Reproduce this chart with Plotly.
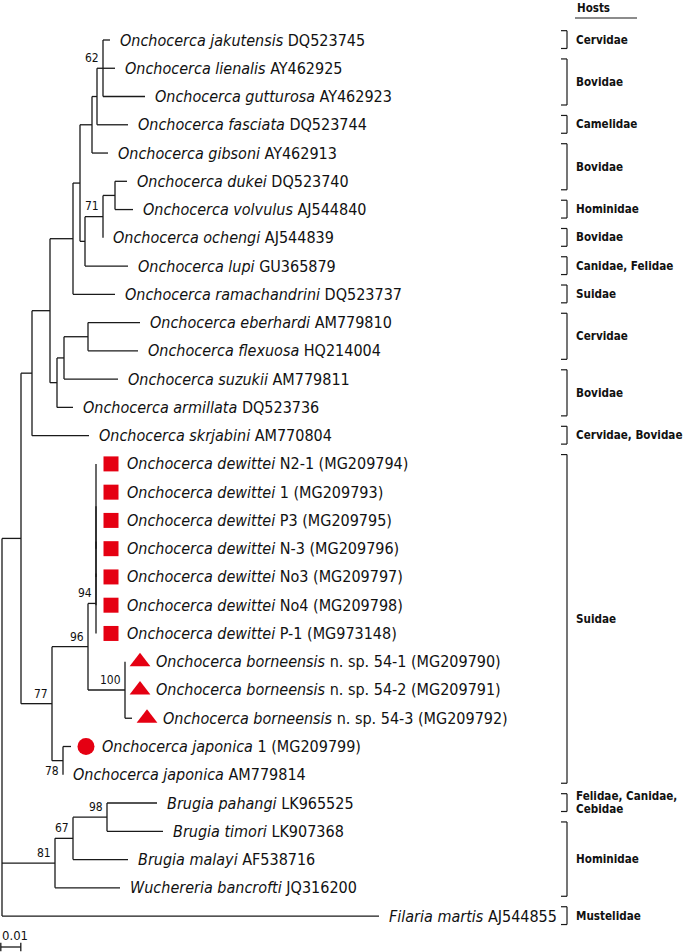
import plotly.graph_objects as go

# ---------------- data ----------------
# tree topology with branch lengths (substitutions/site) and bootstrap support
NEWICK = (
    "((((((((("
    "jak:0.0035,lien:0.006,gut:0.021)62:0.003,fasc:0.0155):0.0025,gib:0.008):0.006,"
    "(((duk:0.006,vol:0.009):0.006,och:0)71:0.009,lup:0.0215):0.0025):0.0035,ram:0.021):0.0115,"
    "(((ebe:0.026,fle:0.025):0.012,suz:0.027):0.0035,arm:0.008):0.0035):0.009,skr:0.0285):0.0055,"
    "((((((dw1:0,dw2:0,dw3:0,dw4:0):0,dw5:0):0,dw6:0):0,dw7:0)94:0.004,"
    "(bo1:0,bo2:0,bo3:0.0035)100:0.0185)96:0.018,(jp1:0.004,jp2:0)78:0.0055)77:0.0155):0.0095,"
    "(((pah:0.025,tim:0.028)98:0.017,mal:0.0275)67:0.009,wuc:0.0325)81:0.0265,"
    "fil:0.1885);"
)

LEAF_KEYS = ["jak", "lien", "gut", "fasc", "gib", "duk", "vol", "och", "lup", "ram",
             "ebe", "fle", "suz", "arm", "skr", "dw1", "dw2", "dw3", "dw4", "dw5",
             "dw6", "dw7", "bo1", "bo2", "bo3", "jp1", "jp2", "pah", "tim", "mal",
             "wuc", "fil"]
SPECIES = ["Onchocerca jakutensis", "Onchocerca lienalis", "Onchocerca gutturosa",
           "Onchocerca fasciata", "Onchocerca gibsoni", "Onchocerca dukei",
           "Onchocerca volvulus", "Onchocerca ochengi", "Onchocerca lupi",
           "Onchocerca ramachandrini", "Onchocerca eberhardi", "Onchocerca flexuosa",
           "Onchocerca suzukii", "Onchocerca armillata", "Onchocerca skrjabini",
           "Onchocerca dewittei", "Onchocerca dewittei", "Onchocerca dewittei",
           "Onchocerca dewittei", "Onchocerca dewittei", "Onchocerca dewittei",
           "Onchocerca dewittei", "Onchocerca borneensis", "Onchocerca borneensis",
           "Onchocerca borneensis", "Onchocerca japonica", "Onchocerca japonica",
           "Brugia pahangi", "Brugia timori", "Brugia malayi", "Wuchereria bancrofti",
           "Filaria martis"]
ACCESSION = ["DQ523745", "AY462925", "AY462923", "DQ523744", "AY462913", "DQ523740",
             "AJ544840", "AJ544839", "GU365879", "DQ523737", "AM779810", "HQ214004",
             "AM779811", "DQ523736", "AM770804", "N2-1 (MG209794)", "1 (MG209793)",
             "P3 (MG209795)", "N-3 (MG209796)", "No3 (MG209797)", "No4 (MG209798)",
             "P-1 (MG973148)", "n. sp. 54-1 (MG209790)", "n. sp. 54-2 (MG209791)",
             "n. sp. 54-3 (MG209792)", "1 (MG209799)", "AM779814", "LK965525",
             "LK907368", "AF538716", "JQ316200", "AJ544855"]
MARKER = [None] * 15 + ["square"] * 7 + ["triangle-up"] * 3 + ["circle"] + [None] * 6

HOST_LABELS = ["Cervidae", "Bovidae", "Camelidae", "Bovidae", "Hominidae", "Bovidae",
               "Canidae, Felidae", "Suidae", "Cervidae", "Bovidae", "Cervidae, Bovidae",
               "Suidae", "Felidae, Canidae,|Cebidae", "Hominidae", "Mustelidae"]
HOST_FIRST = ["jak", "lien", "fasc", "gib", "vol", "och", "lup", "ram", "ebe", "suz",
              "skr", "dw1", "pah", "tim", "fil"]
HOST_LAST = ["jak", "gut", "fasc", "duk", "vol", "och", "lup", "ram", "fle", "arm",
             "skr", "jp2", "pah", "wuc", "fil"]

SCALE_LEN = 0.01

# ---------------- style / geometry ----------------
W, H = 685, 952
UNIT_PER_PX = 0.0005          # 20 px == 0.01
ROOT_PX = 2
Y0_PX, DY_PX = 40, 28.26
RED = "#e50012"
FONT = "DejaVu Sans Condensed, Liberation Sans Narrow, sans-serif"


def px2x(p):
    return (p - ROOT_PX) * UNIT_PER_PX


def py2y(p):
    return (p - Y0_PX) / DY_PX


# ---------------- newick parser ----------------
def parse(s):
    pos = [0]

    def node():
        n = {"name": "", "len": 0.0, "children": []}
        if s[pos[0]] == "(":
            pos[0] += 1
            n["children"].append(node())
            while s[pos[0]] == ",":
                pos[0] += 1
                n["children"].append(node())
            pos[0] += 1  # ')'
        start = pos[0]
        while s[pos[0]] not in ":,);":
            pos[0] += 1
        n["name"] = s[start:pos[0]]
        if s[pos[0]] == ":":
            pos[0] += 1
            start = pos[0]
            while s[pos[0]] not in ",);":
                pos[0] += 1
            n["len"] = float(s[start:pos[0]])
        return n

    return node()


tree = parse(NEWICK)
leaf_index = {k: i for i, k in enumerate(LEAF_KEYS)}


def layout(n, x0):
    n["x"] = x0 + n["len"]
    if n["children"]:
        for c in n["children"]:
            layout(c, n["x"])
        n["y"] = (n["children"][0]["y"] + n["children"][-1]["y"]) / 2
    else:
        n["y"] = leaf_index[n["name"]]


tree["len"] = 0.0
layout(tree, 0.0)

lx, ly = [], []
supports = []
leaf_pos = {}


def collect(n):
    if n["children"]:
        lx.extend([n["x"], n["x"], None])
        ly.extend([n["children"][0]["y"], n["children"][-1]["y"], None])
        for c in n["children"]:
            lx.extend([n["x"], c["x"], None])
            ly.extend([c["y"], c["y"], None])
            collect(c)
        if n["name"]:
            supports.append((n["name"], n["x"], n["y"]))
    else:
        leaf_pos[n["name"]] = (n["x"], n["y"])


collect(tree)

fig = go.Figure()
fig.add_trace(go.Scatter(x=lx, y=ly, mode="lines",
                         line=dict(color="#1a1a1a", width=1.3),
                         hoverinfo="skip", showlegend=False, cliponaxis=False))

annotations = []
# leaf markers + labels
mk_x, mk_y, mk_sym, mk_size = [], [], [], []
MSIZE = {"square": 15, "triangle-up": 18, "circle": 17}
for i, key in enumerate(LEAF_KEYS):
    x, y = leaf_pos[key]
    if MARKER[i]:
        mk_x.append(x + 15 * UNIT_PER_PX)
        mk_y.append(y)
        mk_sym.append(MARKER[i])
        mk_size.append(MSIZE[MARKER[i]])
        tx = x + 29 * UNIT_PER_PX
    else:
        tx = x + 8 * UNIT_PER_PX
    annotations.append(dict(
        x=tx, y=y, xref="x", yref="y", xanchor="left", yanchor="middle",
        text=f"<i>{SPECIES[i]}</i> {ACCESSION[i]}", showarrow=False,
        font=dict(family=FONT, size=16, color="#111")))

fig.add_trace(go.Scatter(x=mk_x, y=mk_y, mode="markers",
                         marker=dict(symbol=mk_sym, size=mk_size, color=RED,
                                     opacity=1, line=dict(width=0)),
                         opacity=1,
                         hoverinfo="skip", showlegend=False, cliponaxis=False))

# bootstrap values
for name, x, y in supports:
    below = name == "78"
    annotations.append(dict(
        x=x - 2 * UNIT_PER_PX, y=y + (0.05 if below else -0.04), xref="x", yref="y",
        xanchor="right", yanchor="top" if below else "bottom",
        text=name, showarrow=False,
        font=dict(family=FONT, size=12, color="#111")))

# host brackets
shapes = []
bx = px2x(567)
bx_t = px2x(561)
for lab, f, l in zip(HOST_LABELS, HOST_FIRST, HOST_LAST):
    y1 = leaf_index[f] - 0.33
    y2 = leaf_index[l] + 0.3
    for xa, ya, xb, yb in [(bx, y1, bx, y2), (bx_t, y1, bx, y1), (bx_t, y2, bx, y2)]:
        shapes.append(dict(type="line", xref="x", yref="y", x0=xa, y0=ya, x1=xb, y1=yb,
                           line=dict(color="#1a1a1a", width=1.2)))
    ym = (y1 + y2) / 2
    parts = lab.split("|")
    for j, part in enumerate(parts):
        off = (j - (len(parts) - 1) / 2) * 0.47
        annotations.append(dict(
            x=px2x(574), y=ym + off, xref="x", yref="y", xanchor="left", yanchor="middle",
            text=f"<b>{part}</b>", showarrow=False,
            font=dict(family=FONT, size=11.6, color="#111")))

# Hosts header
annotations.append(dict(x=px2x(575), y=py2y(8), xref="x", yref="y", xanchor="left",
                        yanchor="middle", text="<b>Hosts</b>", showarrow=False,
                        font=dict(family=FONT, size=11.5, color="#111")))
shapes.append(dict(type="line", xref="x", yref="y", x0=px2x(575), x1=px2x(637),
                   y0=py2y(18), y1=py2y(18), line=dict(color="#1a1a1a", width=1.2)))

# scale bar
sx0 = px2x(0.8)
sy = py2y(947)
for xa, ya, xb, yb in [(sx0, sy, sx0 + SCALE_LEN, sy),
                       (sx0, sy - 0.15, sx0, sy + 0.15),
                       (sx0 + SCALE_LEN, sy - 0.15, sx0 + SCALE_LEN, sy + 0.15)]:
    shapes.append(dict(type="line", xref="x", yref="y", x0=xa, y0=ya, x1=xb, y1=yb,
                       line=dict(color="#1a1a1a", width=1.3)))
annotations.append(dict(x=px2x(0), y=py2y(935), xref="x", yref="y",
                        xanchor="left", yanchor="middle", text=str(SCALE_LEN),
                        showarrow=False, font=dict(family=FONT, size=13, color="#111")))

fig.update_layout(
    width=W, height=H, margin=dict(l=0, r=0, t=0, b=0),
    paper_bgcolor="white", plot_bgcolor="white",
    xaxis=dict(range=[px2x(0), px2x(W)], visible=False, fixedrange=True),
    yaxis=dict(range=[py2y(H), py2y(0)], visible=False, fixedrange=True),
    annotations=annotations, shapes=shapes, showlegend=False,
)

fig.write_html("out.html", config={"displayModeBar": False},
               post_script="document.body.style.margin='0';document.body.style.overflow='hidden';")
